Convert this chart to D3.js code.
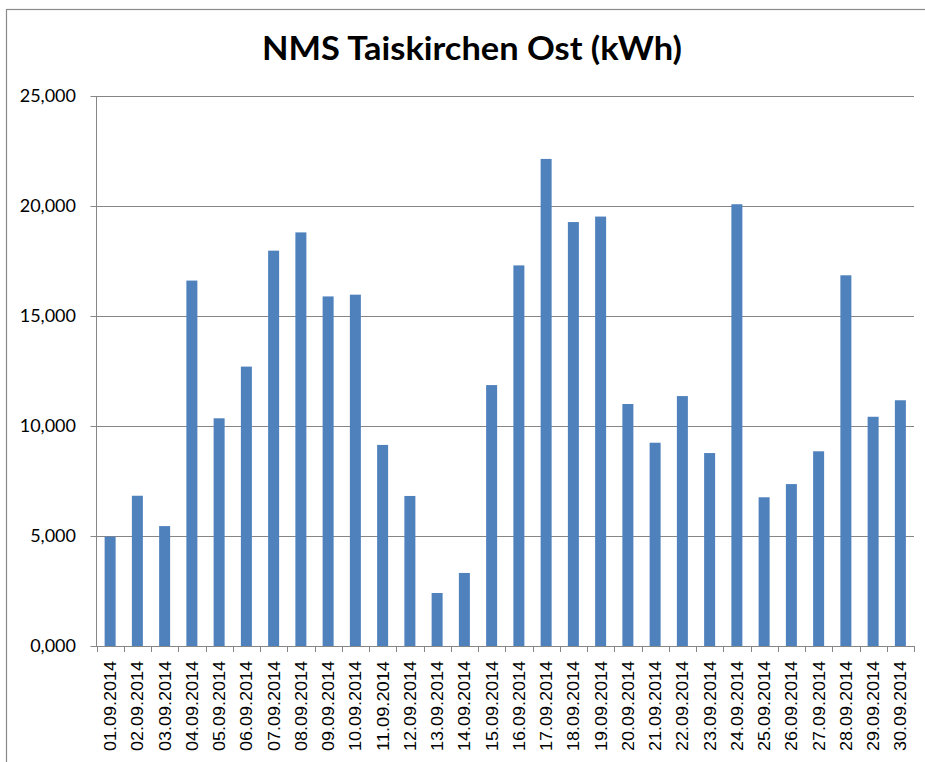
<!DOCTYPE html>
<html lang="de">
<head>
  <meta charset="UTF-8"/>
  <title>NMS Taiskirchen Ost (kWh)</title>
  <script src="https://d3js.org/d3.v7.min.js"></script>
  <style>
    body { margin: 0; background: #fff; }
    svg { display: block; }
    .title { font-family: Lato, sans-serif; font-weight: bold; font-size: 32px; fill: #000; text-anchor: middle; }
    .ylab { font-family: Lato, sans-serif; font-size: 18px; fill: #000; }
    .xlab { font-family: "Liberation Sans", Arial, sans-serif; font-size: 16px; fill: #000; }
    .grid line { stroke: #868686; stroke-width: 1px; }
  </style>
</head>
<body>
<svg id="chart" width="925" height="762"></svg>
<script>
// Daily values, September 2014
const days = ['01.09.2014','02.09.2014','03.09.2014','04.09.2014','05.09.2014','06.09.2014',
  '07.09.2014','08.09.2014','09.09.2014','10.09.2014','11.09.2014','12.09.2014','13.09.2014',
  '14.09.2014','15.09.2014','16.09.2014','17.09.2014','18.09.2014','19.09.2014','20.09.2014',
  '21.09.2014','22.09.2014','23.09.2014','24.09.2014','25.09.2014','26.09.2014','27.09.2014',
  '28.09.2014','29.09.2014','30.09.2014'];
const kwh = [4970, 6830, 5450, 16610, 10350, 12700, 17970, 18800, 15890, 15970,
  9140, 6820, 2410, 3320, 11860, 17300, 22140, 19270, 19520, 11000,
  9240, 11360, 8770, 20080, 6760, 7360, 8850, 16850, 10420, 11170];
const yTicks = [0, 5000, 10000, 15000, 20000, 25000];
const yTickLabels = ['0,000', '5,000', '10,000', '15,000', '20,000', '25,000'];

const svg = d3.select('#chart');
const m = {left: 96.5, right: 914, top: 96, bottom: 646};

// outer chart frame (runs past the picture's right and bottom edge)
svg.append('rect')
  .attr('x', 6.5).attr('y', 9.5).attr('width', 1000).attr('height', 1000)
  .attr('fill', 'none').attr('stroke', '#8a8a8a').attr('stroke-width', 1.2);

svg.append('text').attr('class', 'title')
  .attr('x', 472).attr('y', 60)
  .attr('textLength', 420).attr('lengthAdjust', 'spacingAndGlyphs')
  .text('NMS Taiskirchen Ost (kWh)');

const x = d3.scaleBand().domain(days).range([m.left, m.right]).paddingInner(0).paddingOuter(0);
const y = d3.scaleLinear().domain([0, 25000]).range([m.bottom, m.top]);

// horizontal grid lines + left ticks
const grid = svg.append('g').attr('class', 'grid');
grid.selectAll('line').data(yTicks).enter().append('line')
  .attr('x1', m.left - 6).attr('x2', m.right)
  .attr('y1', d => Math.round(y(d)) + 0.5).attr('y2', d => Math.round(y(d)) + 0.5);

// y axis line
svg.append('line')
  .attr('x1', m.left).attr('x2', m.left).attr('y1', m.top).attr('y2', m.bottom)
  .attr('stroke', '#868686');

svg.selectAll('text.ylab').data(yTicks).enter().append('text')
  .attr('class', 'ylab')
  .attr('x', 76).attr('y', d => y(d))
  .attr('dy', '0.36em').attr('text-anchor', 'end')
  .text((d, i) => yTickLabels[i]);

// bars
const barW = 11;
svg.selectAll('rect.bar').data(kwh).enter().append('rect')
  .attr('class', 'bar')
  .attr('x', (d, i) => x(days[i]) + x.bandwidth() / 2 - barW / 2)
  .attr('width', barW)
  .attr('y', d => y(d))
  .attr('height', d => y(0) - y(d))
  .attr('fill', '#4f81bd');

// x axis with ticks between categories
const xEdges = days.map(d => x(d)).concat([m.right]);
svg.selectAll('line.xtick').data(xEdges).enter().append('line')
  .attr('class', 'xtick')
  .attr('x1', d => Math.round(d) + 0.5).attr('x2', d => Math.round(d) + 0.5)
  .attr('y1', m.bottom).attr('y2', m.bottom + 6)
  .attr('stroke', '#868686');
svg.append('line')
  .attr('x1', m.left).attr('x2', m.right)
  .attr('y1', m.bottom + 0.5).attr('y2', m.bottom + 0.5)
  .attr('stroke', '#868686');

svg.selectAll('text.xlab').data(days).enter().append('text')
  .attr('class', 'xlab')
  .attr('transform', d => `translate(${x(d) + x.bandwidth() / 2 + 6},661) rotate(-90)`)
  .attr('text-anchor', 'end')
  .attr('textLength', 90).attr('lengthAdjust', 'spacingAndGlyphs')
  .text(d => d);
</script>
</body>
</html>
